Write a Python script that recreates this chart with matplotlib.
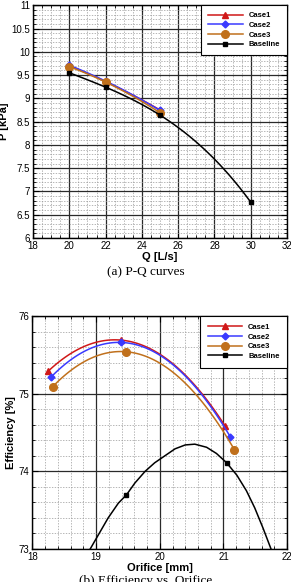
import numpy as np
import matplotlib.pyplot as plt
from matplotlib.ticker import MultipleLocator

plt.rcParams['font.family'] = ['Liberation Sans', 'DejaVu Sans']

# ---- (a) P-Q curves ----
q_case = [20, 22, 25]
p_case1 = [9.70, 9.36, 8.75]
p_case2 = [9.71, 9.37, 8.74]
p_case3 = [9.68, 9.35, 8.69]
q_base = [20, 22, 25, 30]
p_base = [9.55, 9.24, 8.64, 6.77]

# ---- (b) Efficiency vs. Orifice ----
d_case1 = [18.25, 19.39, 21.02]
e_case1 = [75.29, 75.69, 74.59]
d_case2 = [18.29, 19.39, 21.11]
e_case2 = [75.21, 75.66, 74.44]
d_case3 = [18.32, 19.47, 21.17]
e_case3 = [75.09, 75.54, 74.28]
d_base = [19.47, 21.05]
e_base = [73.69, 74.11]
# baseline fitted curve
d_base_curve = [18.88, 19.035, 19.19, 19.35, 19.48, 19.61, 19.77, 19.92, 20.08,
                20.24, 20.40, 20.55, 20.735, 20.89, 21.05, 21.21, 21.36, 21.49,
                21.62, 21.76]
e_base_curve = [72.96, 73.18, 73.40, 73.59, 73.70, 73.85, 74.00, 74.11, 74.20,
                74.29, 74.34, 74.35, 74.31, 74.23, 74.11, 73.95, 73.75, 73.53,
                73.27, 72.97]

c1, c2, c3, cb = '#d01818', '#3a3aff', '#c0701c', 'black'


def smooth(x, y, n=100):
    # polynomial through the points, just for drawing the connecting line
    k = np.polyfit(x, y, len(x) - 1)
    xs = np.linspace(min(x), max(x), n)
    return xs, np.polyval(k, xs)


def style(ax):
    ax.grid(which='major', color='#2a2a2a', lw=0.9, ls='-')
    ax.grid(which='minor', color='#999999', lw=0.5, ls=(0, (2, 2)))
    ax.set_axisbelow(True)
    ax.tick_params(which='both', direction='in', top=True, right=True,
                   labelsize=7, pad=2)
    ax.tick_params(which='major', length=4)
    ax.tick_params(which='minor', length=2)
    for s in ax.spines.values():
        s.set_linewidth(1.0)


fig = plt.figure(figsize=(2.91, 5.82), dpi=100)

ax1 = fig.add_axes([0.1134, 0.591, 0.873, 0.400])
for x, y, c, m, ms, lab in [(q_case, p_case1, c1, '^', 4, 'Case1'),
                            (q_case, p_case2, c2, 'D', 3.5, 'Case2'),
                            (q_case, p_case3, c3, 'o', 5.5, 'Case3'),
                            (q_base, p_base, cb, 's', 3.5, 'Baseline')]:
    xs, ys = smooth(x, y)
    ax1.plot(xs, ys, color=c, lw=1.1)
    ax1.plot(x, y, ls='none', marker=m, ms=ms, color=c)
    ax1.plot([], [], color=c, lw=1.1, marker=m, ms=ms, label=lab)
ax1.set_xlim(18, 32)
ax1.set_ylim(6, 11)
ax1.xaxis.set_major_locator(MultipleLocator(2))
ax1.xaxis.set_minor_locator(MultipleLocator(0.5))
ax1.yaxis.set_major_locator(MultipleLocator(0.5))
ax1.yaxis.set_minor_locator(MultipleLocator(0.1))
ax1.set_yticks(np.arange(6, 11.01, 0.5),
               ['6', '6.5', '7', '7.5', '8', '8.5', '9', '9.5', '10', '10.5', '11'])
style(ax1)
ax1.set_xlabel('Q [L/s]', fontsize=8, fontweight='bold', labelpad=1)
ax1.set_ylabel('P [kPa]', fontsize=8, fontweight='bold', labelpad=2)
leg = ax1.legend(loc='upper right', frameon=True, fancybox=False,
                 edgecolor='black', borderaxespad=0, handlelength=4.5,
                 labelspacing=0.3, borderpad=0.9, prop={'weight': 'bold', 'size': 5.5})
leg.get_frame().set_linewidth(0.8)
leg.get_frame().set_alpha(1)
fig.text(0.5, 1 - 272 / 582, '(a) P-Q curves', ha='center', va='center',
         fontsize=9.5, family='Liberation Serif')

ax2 = fig.add_axes([0.111, 0.0567, 0.876, 0.4003])
for x, y, c, m, ms, lab in [(d_case1, e_case1, c1, '^', 4, 'Case1'),
                            (d_case2, e_case2, c2, 'D', 3.5, 'Case2'),
                            (d_case3, e_case3, c3, 'o', 5.5, 'Case3')]:
    xs, ys = smooth(x, y)
    ax2.plot(xs, ys, color=c, lw=1.1)
    ax2.plot(x, y, ls='none', marker=m, ms=ms, color=c)
    ax2.plot([], [], color=c, lw=1.1, marker=m, ms=ms, label=lab)
ax2.plot(d_base_curve, e_base_curve, color=cb, lw=1.1)
ax2.plot(d_base, e_base, ls='none', marker='s', ms=3.5, color=cb)
ax2.plot([], [], color=cb, lw=1.1, marker='s', ms=3.5, label='Baseline')
ax2.set_xlim(18, 22)
ax2.set_ylim(73, 76)
ax2.xaxis.set_major_locator(MultipleLocator(1))
ax2.xaxis.set_minor_locator(MultipleLocator(0.2))
ax2.yaxis.set_major_locator(MultipleLocator(1))
ax2.yaxis.set_minor_locator(MultipleLocator(0.2))
style(ax2)
ax2.set_xlabel('Orifice [mm]', fontsize=8, fontweight='bold', labelpad=1)
ax2.set_ylabel('Efficiency [%]', fontsize=8, fontweight='bold', labelpad=2)
leg = ax2.legend(loc='upper right', frameon=True, fancybox=False,
                 edgecolor='black', borderaxespad=0, handlelength=4.5,
                 labelspacing=0.3, borderpad=1.0, prop={'weight': 'bold', 'size': 5.5})
leg.get_frame().set_linewidth(0.8)
leg.get_frame().set_alpha(1)
fig.text(0.5, 1 - 575 / 582, '(b) Efficiency vs. Orifice', ha='center', va='top',
         fontsize=9.5, family='Liberation Serif')

fig.savefig('out.png', dpi=100)
